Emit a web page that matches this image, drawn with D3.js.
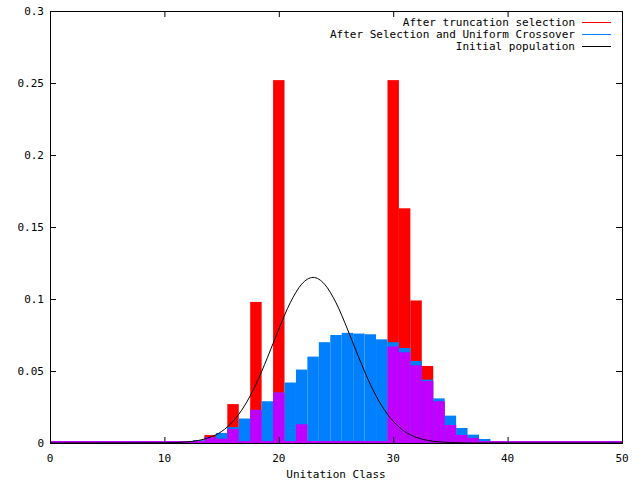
<!DOCTYPE html>
<html><head><meta charset="utf-8">
<script src="https://cdn.jsdelivr.net/npm/d3@7"></script>
<style>body{margin:0;background:#fff}text{font-family:"DejaVu Sans Mono",monospace;font-size:11px}</style>
</head><body><div id="vis"></div>
<script>
const width = 640, height = 480;
const margin = {left: 50, right: 18, top: 11, bottom: 37};

// after truncation selection (red)
const redX = [14, 16, 18, 20, 30, 31, 32, 33, 34, 35, 36, 37];
const redY = [0.0055, 0.027, 0.098, 0.252, 0.252, 0.163, 0.099, 0.0535, 0.029, 0.0125, 0.0056, 0.0035];
// after selection and uniform crossover (blue)
const blueX = [12, 13, 14, 15, 16, 17, 18, 19, 20, 21, 22, 23, 24, 25, 26, 27, 28, 29, 30, 31, 32, 33, 34, 35, 36, 37, 38, 39];
const blueY = [0.001, 0.002, 0.004, 0.007, 0.011, 0.017, 0.023, 0.029, 0.035, 0.042, 0.051, 0.060, 0.070, 0.075, 0.0765, 0.076, 0.0755, 0.072, 0.070, 0.066, 0.057, 0.044, 0.031, 0.019, 0.0104, 0.0058, 0.0028, 0.001];
// purple overlap bars
const purpleX = [13, 14, 15, 16, 18, 20, 22, 30, 31, 32, 33, 34, 35, 36, 37, 38];
const purpleY = [0.001, 0.004, 0.003, 0.0097, 0.023, 0.035, 0.013, 0.067, 0.063, 0.054, 0.043, 0.029, 0.0125, 0.0056, 0.0035, 0.001];
// initial population curve, read at integer classes
const initX = [0, 10, 11, 12, 13, 14, 15, 16, 17, 18, 19, 20, 21, 22, 23, 24, 25, 26, 27, 28, 29, 30, 31, 32, 33, 34, 35, 36, 37, 38, 39, 40, 50];
const initY = [0, 0.0001, 0.0003, 0.0008, 0.0018, 0.004, 0.008, 0.0151, 0.0258, 0.0407, 0.0592, 0.0791, 0.0974, 0.1103, 0.115, 0.1103, 0.0974, 0.0791, 0.0592, 0.0407, 0.0258, 0.0151, 0.008, 0.004, 0.0018, 0.0008, 0.0003, 0.0001, 0, 0, 0, 0, 0].slice(0);
const initXs = [0, 10, 11, 12, 13, 14, 15, 16, 17, 18, 19, 20, 21, 22, 23, 24, 25, 26, 27, 28, 29, 30, 31, 32, 33, 34, 35, 36, 37, 38, 39, 40, 50];
const initYs = [0, 0.0001, 0.0003, 0.0008, 0.0018, 0.004, 0.008, 0.0151, 0.0258, 0.0407, 0.0592, 0.0791, 0.0974, 0.1103, 0.115, 0.1103, 0.0974, 0.0791, 0.0592, 0.0407, 0.0258, 0.0151, 0.008, 0.004, 0.0018, 0.0008, 0.0003, 0.0001, 0, 0, 0, 0, 0];

const xTicks = [0, 10, 20, 30, 40, 50];
const yTicks = [0, 0.05, 0.1, 0.15, 0.2, 0.25, 0.3];

const x = d3.scaleLinear().domain([0, 50]).range([margin.left, width - margin.right]);
const y = d3.scaleLinear().domain([0, 0.3]).range([height - margin.bottom, margin.top]);

const svg = d3.select("#vis").append("svg").attr("width", width).attr("height", height);

function bars(xs, ys, color) {
	svg.append("g").selectAll("rect").data(xs.map((v, i) => [v, ys[i]])).enter().append("rect")
		.attr("x", d => x(d[0] - 0.5))
		.attr("width", x(1) - x(0))
		.attr("y", d => y(d[1]))
		.attr("height", d => y(0) - y(d[1]))
		.attr("fill", color);
}
bars(redX, redY, "#ff0000");
bars(blueX, blueY, "#0080ff");
bars(purpleX, purpleY, "#bf00ff");

svg.append("line").attr("x1", x(0)).attr("x2", x(50)).attr("y1", y(0) - 1).attr("y2", y(0) - 1)
	.attr("stroke", "#bf00ff").attr("stroke-width", 2);

svg.append("path")
	.datum(initXs.map((v, i) => [v, initYs[i]]))
	.attr("d", d3.line().x(d => x(d[0])).y(d => y(d[1])).curve(d3.curveMonotoneX))
	.attr("fill", "none").attr("stroke", "#000").attr("stroke-width", 1);

// frame and ticks
svg.append("rect").attr("x", x(0) + 0.5).attr("y", y(0.3) + 0.5)
	.attr("width", x(50) - x(0)).attr("height", y(0) - y(0.3))
	.attr("fill", "none").attr("stroke", "#000");

const g = svg.append("g").attr("stroke", "#000");
xTicks.forEach(t => {
	g.append("line").attr("x1", x(t) + 0.5).attr("x2", x(t) + 0.5).attr("y1", y(0)).attr("y2", y(0) - 6);
	g.append("line").attr("x1", x(t) + 0.5).attr("x2", x(t) + 0.5).attr("y1", y(0.3)).attr("y2", y(0.3) + 6);
	svg.append("text").attr("x", x(t)).attr("y", y(0) + 19).attr("text-anchor", "middle").text(t);
});
yTicks.forEach(t => {
	g.append("line").attr("x1", x(0)).attr("x2", x(0) + 6).attr("y1", Math.round(y(t)) + 0.5).attr("y2", Math.round(y(t)) + 0.5);
	g.append("line").attr("x1", x(50)).attr("x2", x(50) - 6).attr("y1", Math.round(y(t)) + 0.5).attr("y2", Math.round(y(t)) + 0.5);
	svg.append("text").attr("x", x(0) - 6).attr("y", y(t) + 4).attr("text-anchor", "end").text(t);
});

svg.append("text").attr("x", (x(0) + x(50)) / 2).attr("y", 478).attr("text-anchor", "middle").text("Unitation Class");

const legend = [["After truncation selection", "#ff0000"], ["After Selection and Uniform Crossover", "#0080ff"], ["Initial population", "#000"]];
legend.forEach((d, i) => {
	const ly = 22 + i * 12;
	svg.append("text").attr("x", 575).attr("y", ly + 4).attr("text-anchor", "end").text(d[0]);
	svg.append("line").attr("x1", 582).attr("x2", 611).attr("y1", ly + 0.5).attr("y2", ly + 0.5).attr("stroke", d[1]);
});
</script></body></html>
